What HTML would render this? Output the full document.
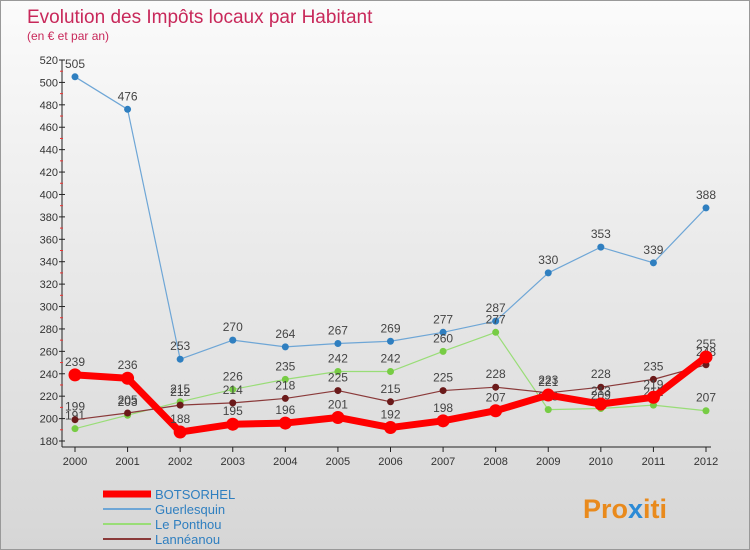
<!DOCTYPE html>
<html><head><meta charset="utf-8">
<style>
html,body{margin:0;padding:0}
body{width:750px;height:550px;overflow:hidden;font-family:"Liberation Sans",sans-serif}
#wrap{position:relative;width:748px;height:548px;border:1px solid #999;background:linear-gradient(#fbfbfb,#d6d6d6)}
</style></head>
<body>
<div id="wrap">
<svg id="chart" width="748" height="548" style="position:absolute;left:0;top:0">
<text x="26" y="22" font-size="19" fill="#c8285a">Evolution des Impôts locaux par Habitant</text>
<text x="26" y="39" font-size="12" fill="#c8285a">(en € et par an)</text>
<g id="axes"></g>
<g id="series"></g>
<g id="legend"></g>
<text x="582" y="517" font-size="27" font-weight="bold" fill="#e98a1c">Pro<tspan fill="#2b8ad6">x</tspan>iti</text>
</svg>
</div>
<script>
const years=[2000,2001,2002,2003,2004,2005,2006,2007,2008,2009,2010,2011,2012];
const yTicks=[180,200,220,240,260,280,300,320,340,360,380,400,420,440,460,480,500,520];
const botsorhel=[239,236,188,195,196,201,192,198,207,221,213,219,255];
const guerlesquin=[505,476,253,270,264,267,269,277,287,330,353,339,388];
const ponthou=[191,203,215,226,235,242,242,260,277,208,209,212,207];
const lanneanou=[199,205,212,214,218,225,215,225,228,223,228,235,248];
const names=["BOTSORHEL","Guerlesquin","Le Ponthou","Lannéanou"];

const NS="http://www.w3.org/2000/svg";
const X0=74,X1=705,Y0=440,Y1=59,VMIN=180,VMAX=520;
function xs(i){return X0+(X1-X0)*i/(years.length-1);}
function ys(v){return Y0-(v-VMIN)*(Y0-Y1)/(VMAX-VMIN);}
function mk(tag,attrs,parent){const e=document.createElementNS(NS,tag);for(const k in attrs)e.setAttribute(k,attrs[k]);parent.appendChild(e);return e;}
const axes=document.getElementById('axes');
let l=mk('line',{x1:X0-13,y1:Y1,x2:X0-13,y2:Y0+6,stroke:'#222','stroke-width':1},axes);


l=mk('line',{x1:X0-13,y1:Y0+6,x2:X1+5,y2:Y0+6,stroke:'#222','stroke-width':1},axes);


yTicks.forEach((v,i)=>{
  const y=ys(v);
  mk('line',{x1:X0-16,y1:y,x2:X0-10,y2:y,stroke:'#222'},axes);
  if(i<yTicks.length-1)mk('line',{x1:X0-15,y1:ys(v+10),x2:X0-12,y2:ys(v+10),stroke:'#e33'},axes);
  const t=mk('text',{x:X0-17,y:y+4,'font-size':11,fill:'#333','text-anchor':'end'},axes);
  t.textContent=v;
  
  
});
years.forEach((yr,i)=>{
  const x=xs(i);
  mk('line',{x1:x,y1:Y0+6,x2:x,y2:Y0+11,stroke:'#222'},axes);
  const t=mk('text',{x:x,y:Y0+24,'font-size':11,fill:'#333','text-anchor':'middle'},axes);
  t.textContent=yr;
  
  
});
const ser=document.getElementById('series');
function draw(data,color,dot,w,r,name){
  const g=mk('g',{},ser);
  
  
  const p=mk('polyline',{points:data.map((v,i)=>xs(i)+','+ys(v)).join(' '),fill:'none',stroke:color,'stroke-width':w,'stroke-linejoin':'round'},g);
  
  
  data.forEach((v,i)=>{
    const c=mk('circle',{cx:xs(i),cy:ys(v),r:r,fill:dot},g);
    
    
    const t=mk('text',{x:xs(i),y:ys(v)-9,'font-size':12,fill:'#444','text-anchor':'middle'},g);
    t.textContent=v;
    
    
  });
}
draw(guerlesquin,'#6ea6d6','#2f7fc0',1.2,3.5,'guerlesquin');
draw(ponthou,'#99dd77','#77cc44',1.2,3.5,'le-ponthou');
draw(lanneanou,'#8a3a3a','#6b1a1a',1.2,3.5,'lanneanou');
draw(botsorhel,'#ff0000','#ff0000',7,6.5,'botsorhel');
const leg=document.getElementById('legend');
const lc=['#ff0000','#6ea6d6','#99dd77','#8a3a3a'],lw=[7,2,2,2];
names.forEach((n,i)=>{
  const y=493+i*15;
  const g=mk('g',{},leg);
  
  
  mk('line',{x1:102,y1:y,x2:150,y2:y,stroke:lc[i],'stroke-width':lw[i]},g);
  const t=mk('text',{x:154,y:y+5,'font-size':13,fill:'#2f7fc0'},g);
  t.textContent=n;
});
</script>
</body></html>
